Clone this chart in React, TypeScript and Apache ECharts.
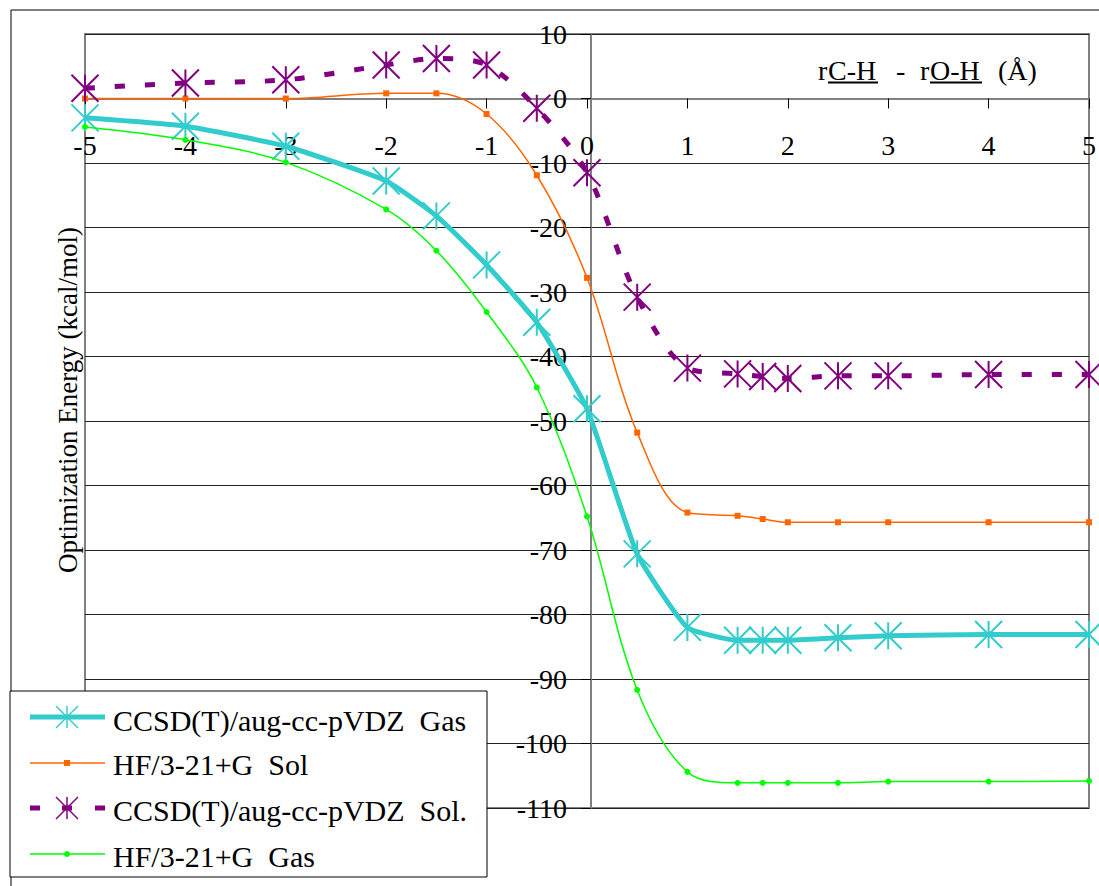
import React, { useEffect, useRef } from 'react';
import * as echarts from 'echarts';

// ---- data ----
const xValues = [-5, -4, -3, -2, -1.5, -1, -0.5, 0, 0.5, 1, 1.5, 1.75, 2, 2.5, 3, 4, 5];
const ccsdGas = [-3.0, -4.3, -7.4, -12.8, -18.2, -25.8, -34.7, -48.1, -70.6, -82.0, -84.0, -84.0, -84.0, -83.6, -83.3, -83.1, -83.1];
const hfSol = [0.0, 0.0, 0.0, 0.8, 0.8, -2.4, -11.9, -27.8, -51.8, -64.2, -64.7, -65.2, -65.7, -65.7, -65.7, -65.7, -65.7];
const ccsdSol = [1.6, 2.4, 2.9, 5.2, 6.2, 5.2, -1.5, -11.5, -30.8, -41.8, -42.7, -43.1, -43.4, -43.0, -43.0, -42.8, -42.8];
const hfGas = [-4.4, -6.4, -9.9, -17.2, -23.6, -33.1, -44.8, -64.8, -91.7, -104.4, -106.1, -106.1, -106.1, -106.1, -105.9, -105.9, -105.8];
const seriesNames = ['CCSD(T)/aug-cc-pVDZ  Gas', 'HF/3-21+G  Sol', 'CCSD(T)/aug-cc-pVDZ  Sol.', 'HF/3-21+G  Gas'];
const yTitle = 'Optimization Energy (kcal/mol)';
const xMin = -5, xMax = 5, xStep = 1;
const yMin = -110, yMax = 10, yStep = 10;

const FONT = "'Liberation Serif', 'Times New Roman', serif";
const CYAN = '#33CCCC';
const ORANGE = '#FF6600';
const PURPLE = '#800080';
const GREEN = '#00FF00';
const ASTERISK = 'path://M10 0L10 20M0 0L20 20M0 20L20 0';

const pairs = (ys: number[]) => xValues.map((x, i) => [x, ys[i]]);

function asteriskLines(cx: number, cy: number, s: number, color: string, w: number, z: number) {
  const h = s / 2;
  const mk = (x1: number, y1: number, x2: number, y2: number) => ({
    type: 'line', z, shape: { x1, y1, x2, y2 }, style: { stroke: color, lineWidth: w },
  });
  return [mk(cx, cy - h, cx, cy + h), mk(cx - h, cy - h, cx + h, cy + h), mk(cx - h, cy + h, cx + h, cy - h)];
}

export default function App() {
  const ref = useRef<HTMLDivElement>(null);
  useEffect(() => {
    if (!ref.current) return;
    const chart = echarts.init(ref.current, null, { renderer: 'svg' });

    // grid geometry
    const gLeft = 85, gTop = 34, gW = 1012, gH = 774;
    // pixel positions of the zero values (axes cross there, as in the reference)
    const zeroX = gLeft + ((0 - xMin) / (xMax - xMin)) * gW;
    const zeroY = gTop + ((yMax - 0) / (yMax - yMin)) * gH;

    const lx1 = 30, lx2 = 105, lcx = 67;
    const lineY = [717, 763, 808, 854];
    const textY = [720, 764, 810, 856];
    const LZ = 100;

    const legendGraphics: any[] = [
      { type: 'rect', z: LZ - 1, shape: { x: 10, y: 691, width: 477, height: 186 }, style: { fill: '#fff', stroke: '#000', lineWidth: 1 } },
      { type: 'line', z: LZ, shape: { x1: lx1, y1: lineY[0], x2: lx2, y2: lineY[0] }, style: { stroke: CYAN, lineWidth: 5 } },
      ...asteriskLines(lcx, lineY[0], 22, CYAN, 1.5, LZ + 1),
      { type: 'line', z: LZ, shape: { x1: lx1, y1: lineY[1], x2: lx2, y2: lineY[1] }, style: { stroke: ORANGE, lineWidth: 1.5 } },
      { type: 'rect', z: LZ + 1, shape: { x: lcx - 3, y: lineY[1] - 3, width: 6, height: 6 }, style: { fill: ORANGE } },
      { type: 'rect', z: LZ, shape: { x: lx1, y: lineY[2] - 2.5, width: 10, height: 5 }, style: { fill: PURPLE } },
      { type: 'rect', z: LZ, shape: { x: lcx - 5, y: lineY[2] - 2.5, width: 10, height: 5 }, style: { fill: PURPLE } },
      { type: 'rect', z: LZ, shape: { x: lx2 - 10, y: lineY[2] - 2.5, width: 10, height: 5 }, style: { fill: PURPLE } },
      ...asteriskLines(lcx, lineY[2], 22, PURPLE, 1.5, LZ + 1),
      { type: 'line', z: LZ, shape: { x1: lx1, y1: lineY[3], x2: lx2, y2: lineY[3] }, style: { stroke: GREEN, lineWidth: 1.5 } },
      { type: 'circle', z: LZ + 1, shape: { cx: lcx, cy: lineY[3], r: 3 }, style: { fill: GREEN } },
      ...seriesNames.map((n, i) => ({
        type: 'text', z: LZ + 1, x: 113, y: textY[i],
        style: { text: n, fontSize: 30, fontFamily: FONT, fill: '#000', align: 'left', verticalAlign: 'middle' },
      })),
    ];

    const tTitleY = 70.5;
    const titleStyle = (t: string) => ({ text: t, fontSize: 28, fontFamily: FONT, fill: '#000', align: 'left', verticalAlign: 'middle' });
    const xTitleGraphics: any[] = [
      { type: 'text', z: 50, x: 818, y: tTitleY, style: titleStyle('r') },
      { type: 'text', z: 50, x: 828, y: tTitleY, style: titleStyle('C-H') },
      { type: 'text', z: 50, x: 896, y: tTitleY, style: titleStyle('-') },
      { type: 'text', z: 50, x: 920, y: tTitleY, style: titleStyle('r') },
      { type: 'text', z: 50, x: 930, y: tTitleY, style: titleStyle('O-H') },
      { type: 'text', z: 50, x: 998, y: tTitleY, style: titleStyle('(Å)') },
      { type: 'line', z: 50, shape: { x1: 828, y1: 82.5, x2: 878, y2: 82.5 }, style: { stroke: '#000', lineWidth: 2 } },
      { type: 'line', z: 50, shape: { x1: 930, y1: 82.5, x2: 982, y2: 82.5 }, style: { stroke: '#000', lineWidth: 2 } },
    ];

    const option: any = {
      animation: false,
      backgroundColor: '#fff',
      grid: {
        left: gLeft, top: gTop, width: gW, height: gH,
        show: true, borderColor: '#808080', borderWidth: 2, backgroundColor: 'transparent',
      },
      xAxis: {
        type: 'value', min: xMin, max: xMax, interval: xStep,
        position: 'bottom',
        offset: zeroY - (gTop + gH),
        axisLine: { onZero: false, lineStyle: { color: '#808080', width: 2 } },
        axisTick: { show: true, length: 10, lineStyle: { color: '#000', width: 1 } },
        axisLabel: { fontSize: 28, fontFamily: FONT, color: '#000', margin: 33 },
        splitLine: { show: false },
      },
      yAxis: {
        type: 'value', min: yMin, max: yMax, interval: yStep,
        position: 'left',
        offset: gLeft - zeroX,
        axisLine: { onZero: false, lineStyle: { color: '#808080', width: 2 } },
        axisTick: { show: true, length: 10, lineStyle: { color: '#000', width: 1 } },
        axisLabel: { fontSize: 28, fontFamily: FONT, color: '#000', margin: 24 },
        splitLine: { show: true, lineStyle: { color: '#222', width: 1 } },
      },
      series: [
        {
          name: seriesNames[0], type: 'line', data: pairs(ccsdGas), smooth: 0.15,
          symbol: ASTERISK, symbolSize: 27,
          lineStyle: { color: CYAN, width: 5 },
          itemStyle: { color: CYAN, borderColor: CYAN, borderWidth: 2 },
          z: 3,
        },
        {
          name: seriesNames[1], type: 'line', data: pairs(hfSol), smooth: 0.35,
          symbol: 'rect', symbolSize: 6,
          lineStyle: { color: ORANGE, width: 1.5 },
          itemStyle: { color: ORANGE, borderWidth: 0 },
          z: 4,
        },
        {
          name: seriesNames[2], type: 'line', data: pairs(ccsdSol), smooth: 0.3,
          symbol: ASTERISK, symbolSize: 27,
          lineStyle: { color: PURPLE, width: 5, type: [10, 20] },
          itemStyle: { color: PURPLE, borderColor: PURPLE, borderWidth: 2 },
          z: 5,
        },
        {
          name: seriesNames[3], type: 'line', data: pairs(hfGas), smooth: 0.35,
          symbol: 'circle', symbolSize: 6,
          lineStyle: { color: GREEN, width: 1.5 },
          itemStyle: { color: GREEN, borderWidth: 0 },
          z: 6,
        },
      ],
      graphic: [
        { type: 'rect', z: -1, silent: true, shape: { x: 11, y: 10, width: 1200, height: 1000 }, style: { fill: 'none', stroke: '#000', lineWidth: 1 } },
        {
          type: 'text', z: 50, x: 68, y: 400, rotation: Math.PI / 2,
          style: { text: yTitle, fontSize: 27, fontFamily: FONT, fill: '#000', align: 'center', verticalAlign: 'middle' },
        },
        ...xTitleGraphics,
        ...legendGraphics,
      ],
    };
    chart.setOption(option);
    return () => chart.dispose();
  }, []);
  return (
    <div
      ref={ref}
      style={{ position: 'absolute', left: 0, top: 0, width: 1099, height: 886, background: '#fff' }}
    />
  );
}
